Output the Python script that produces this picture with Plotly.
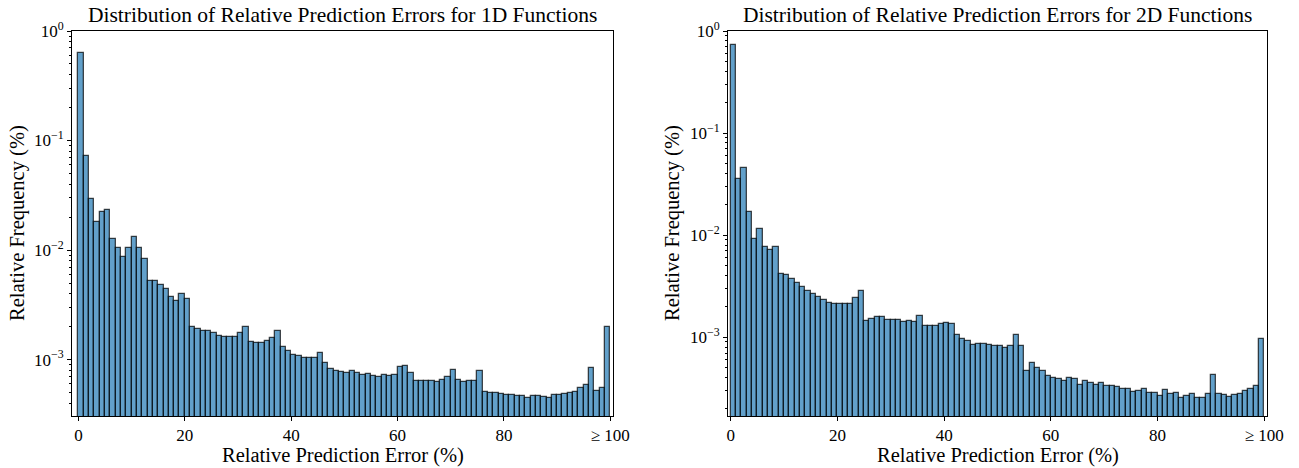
import plotly.graph_objects as go

# ---------------- data ----------------
bin_centers = [i + 0.5 for i in range(100)]

freq_1d = [
    0.627, 0.0716, 0.0295, 0.0182, 0.0223, 0.0231, 0.0125, 0.0105, 0.00858, 0.0105,
    0.0133, 0.0105, 0.00823, 0.00519, 0.00522, 0.00481, 0.00445, 0.00371, 0.00346, 0.00398,
    0.00361, 0.00197, 0.00189, 0.00182, 0.00181, 0.00175, 0.00165, 0.00161, 0.00161, 0.00161,
    0.00175, 0.00200, 0.00146, 0.00142, 0.00142, 0.00148, 0.00157, 0.00182, 0.00130, 0.00120,
    0.00110, 0.00107, 0.00103, 0.00103, 0.00104, 0.00116, 0.000933, 0.000823, 0.000783, 0.000767,
    0.000762, 0.000783, 0.000751, 0.000731, 0.000736, 0.000711, 0.000700, 0.000726, 0.000711, 0.000731,
    0.000858, 0.000869, 0.000757, 0.000644, 0.000631, 0.000631, 0.000635, 0.000622, 0.000649, 0.000696,
    0.000800, 0.000654, 0.000622, 0.000640, 0.000644, 0.000783, 0.000508, 0.000498, 0.000500, 0.000488,
    0.000477, 0.000471, 0.000461, 0.000461, 0.000449, 0.000461, 0.000468, 0.000455, 0.000445, 0.000474,
    0.000474, 0.000481, 0.000491, 0.000505, 0.000545, 0.000589, 0.000834, 0.000512, 0.000553, 0.00197,
]

freq_2d = [
    0.73, 0.0353, 0.0452, 0.0168, 0.00914, 0.01136, 0.00757, 0.00713, 0.00757, 0.00413,
    0.00404, 0.00372, 0.00340, 0.00310, 0.00284, 0.00267, 0.00248, 0.00230, 0.00218, 0.00213,
    0.00213, 0.00213, 0.00212, 0.00242, 0.00281, 0.00144, 0.00150, 0.00159, 0.00157, 0.00147,
    0.00149, 0.00148, 0.00141, 0.00144, 0.00142, 0.00161, 0.00128, 0.00128, 0.00128, 0.00134,
    0.00139, 0.00134, 0.00104, 0.000955, 0.000914, 0.000835, 0.000854, 0.000867, 0.000835, 0.000822,
    0.000816, 0.000792, 0.000822, 0.001054, 0.000822, 0.000465, 0.000561, 0.000501, 0.000462, 0.000418,
    0.000394, 0.000388, 0.000371, 0.000400, 0.000388, 0.000337, 0.000374, 0.000358, 0.000340, 0.000352,
    0.000334, 0.000330, 0.000322, 0.000308, 0.000313, 0.000288, 0.000299, 0.000310, 0.000282, 0.000285,
    0.000263, 0.000301, 0.000275, 0.000284, 0.000255, 0.000265, 0.000277, 0.000253, 0.000253, 0.000279,
    0.000428, 0.000275, 0.000271, 0.000261, 0.000271, 0.000277, 0.000294, 0.000313, 0.000334, 0.000955,
]

x_tick_vals = [0, 20, 40, 60, 80, 100]
x_tick_text = ["0", "20", "40", "60", "80", "\u2265 100"]
y_tick_vals = [1, 0.1, 0.01, 0.001]
y_tick_text = ["10<sup>0</sup>", "10<sup>\u22121</sup>", "10<sup>\u22122</sup>", "10<sup>\u22123</sup>"]
titles = ["Distribution of Relative Prediction Errors for 1D Functions",
          "Distribution of Relative Prediction Errors for 2D Functions"]
x_label = "Relative Prediction Error (%)"
y_label = "Relative Frequency (%)"

# ---------------- layout helpers ----------------
W, H = 1299, 468
FONT = "Liberation Serif, Times New Roman, serif"


def px(x):
    return x / W


def py(y):
    return 1 - y / H


minor_vals = [m * 10 ** e for e in range(-4, 1) for m in range(2, 10)]

fig = go.Figure()
for i, freq in enumerate([freq_1d, freq_2d]):
    xa = "x" if i == 0 else "x2"
    ya = "y" if i == 0 else "y2"
    fig.add_trace(go.Bar(
        x=bin_centers, y=freq, width=1.0, xaxis=xa, yaxis=ya,
        marker=dict(color="rgba(31,119,180,0.7)",
                    line=dict(color="rgba(0,0,0,0.7)", width=1.3)),
        showlegend=False,
    ))

domains_x = [[px(72), px(613)], [px(728), px(1267)]]
dom_y = [py(416), py(31)]

axis_common = dict(showline=True, linecolor="black", linewidth=1, mirror=True,
                   ticks="outside", ticklen=4, tickwidth=1, tickcolor="black",
                   showgrid=False, zeroline=False, automargin=False,
                   tickfont=dict(family=FONT, size=17, color="black"))

ranges = [([-1.2, 100.5], [-3.515, 0]), ([-0.5, 100.5], [-3.772, 0])]
for i in range(2):
    sx = "xaxis" if i == 0 else "xaxis2"
    sy = "yaxis" if i == 0 else "yaxis2"
    fig.layout[sx] = dict(axis_common, domain=domains_x[i], range=ranges[i][0],
                          anchor="y" if i == 0 else "y2",
                          tickmode="array", tickvals=x_tick_vals, ticktext=x_tick_text)
    fig.layout[sy] = dict(axis_common, domain=dom_y, range=ranges[i][1], type="log",
                          anchor="x" if i == 0 else "x2",
                          tickmode="array", tickvals=y_tick_vals, ticktext=y_tick_text,
                          minor=dict(ticks="outside", ticklen=2, tickwidth=1, tickcolor="black",
                                     tickmode="array", tickvals=minor_vals, showgrid=False))

annotations = []
centers = [(72 + 613) / 2, (728 + 1267) / 2]
ylab_x = [17, 672]
for i in range(2):
    annotations.append(dict(text=titles[i], x=px(centers[i]), y=py(15), xref="paper", yref="paper",
                            showarrow=False, xanchor="center", yanchor="middle",
                            font=dict(family=FONT, size=21.5, color="black")))
    annotations.append(dict(text=x_label, x=px(centers[i]), y=py(455), xref="paper", yref="paper",
                            showarrow=False, xanchor="center", yanchor="middle",
                            font=dict(family=FONT, size=20.5, color="black")))
    annotations.append(dict(text=y_label, x=px(ylab_x[i]), y=py(223), xref="paper", yref="paper",
                            showarrow=False, xanchor="center", yanchor="middle", textangle=-90,
                            font=dict(family=FONT, size=20.5, color="black")))

fig.update_layout(width=W, height=H, margin=dict(l=0, r=0, t=0, b=0),
                  paper_bgcolor="white", plot_bgcolor="white", bargap=0,
                  annotations=annotations, font=dict(family=FONT, color="black"))

fig.write_html("out.html", config={"displayModeBar": False},
               post_script="document.body.style.margin='0';")
